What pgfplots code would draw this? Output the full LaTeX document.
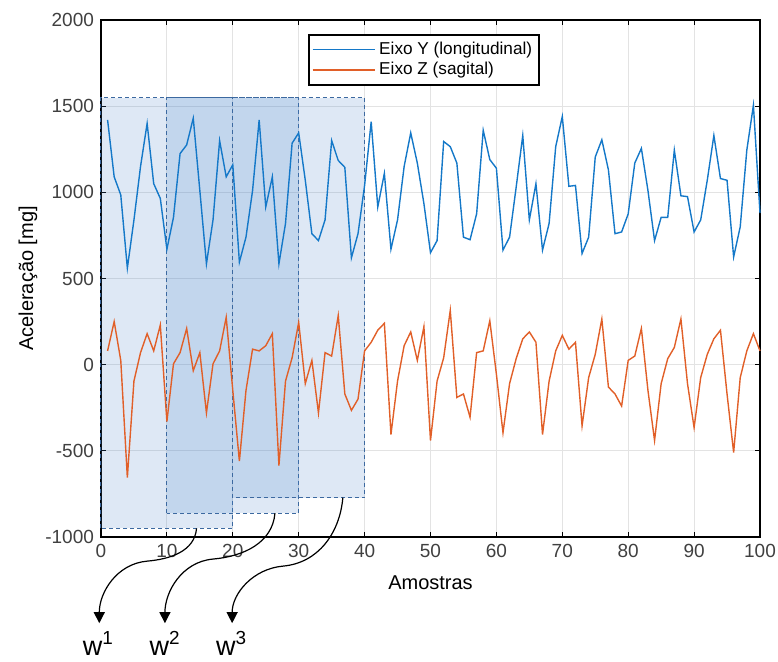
\documentclass[border=0pt]{standalone}
\usepackage{fontspec}
\setmainfont{Liberation Sans}
\usepackage{pgfplots}
\pgfplotsset{compat=1.18}
\usetikzlibrary{arrows.meta}
\definecolor{mblue}{RGB}{20,120,200}
\definecolor{morange}{RGB}{225,95,40}
\definecolor{winfill}{RGB}{70,130,200}
\definecolor{winedge}{RGB}{60,105,160}
\definecolor{ticktext}{RGB}{64,64,64}

\begin{document}
\begin{tikzpicture}
\path[use as bounding box] (-50.5pt,-62pt) rectangle (338.5pt,268.5pt);
\begin{axis}[
  at={(0,0)}, anchor=south west,
  scale only axis,
  width=329.5pt, height=258.5pt,
  xmin=0, xmax=100, ymin=-1000, ymax=2000,
  xtick={0,10,...,100}, ytick={-1000,-500,...,2000},
  grid=major,
  grid style={line width=0.4pt, draw=gray!22},
  axis line style={line width=0.9pt, black},
  tick style={black, line width=0.5pt},
  major tick length=2.5pt,
  tick align=inside,
  tick label style={font=\fontsize{9.5}{11}\selectfont, text=ticktext},
  /pgf/number format/assume math mode=true,
  /pgf/number format/set thousands separator={},
  xlabel={Amostras},
  ylabel={Aceleração [mg]},
  label style={font=\fontsize{11}{13}\selectfont, text=ticktext},
  every axis x label/.style={at={(axis description cs:0.5,-0.089)}, anchor=center},
  every axis y label/.style={at={(axis description cs:-0.1108,0.5)}, anchor=center, rotate=90},
  legend style={at={(axis description cs:0.314,0.973)}, anchor=north west,
    draw=black, line width=0.9pt, font=\fontsize{8.6}{10}\selectfont,
    inner sep=1.5pt, row sep=-1.5pt, cells={anchor=west}},
  legend image code/.code={\draw[#1, line width=0.7pt] (0pt,0pt) -- (31pt,0pt);},
  clip=false,
]
% janelas
\filldraw[fill=winfill, fill opacity=0.18, draw=winedge, line width=0.5pt, dash pattern=on 2pt off 1.5pt]
  (axis cs:0,-950) rectangle (axis cs:20,1550);
\filldraw[fill=winfill, fill opacity=0.18, draw=winedge, line width=0.5pt, dash pattern=on 2pt off 1.5pt]
  (axis cs:10,-862) rectangle (axis cs:30,1550);
\filldraw[fill=winfill, fill opacity=0.18, draw=winedge, line width=0.5pt, dash pattern=on 2pt off 1.5pt]
  (axis cs:20,-772) rectangle (axis cs:40,1550);

\addplot[color=mblue, line width=0.7pt] coordinates {
  (1,1420) (2,1090) (3,985) (4,560) (5,840) (6,1150) (7,1400) (8,1050) (9,965) (10,670)
  (11,855) (12,1225) (13,1275) (14,1430) (15,1010) (16,585) (17,840) (18,1300) (19,1090) (20,1160)
  (21,595) (22,740) (23,1010) (24,1420) (25,915) (26,1090) (27,585) (28,820) (29,1285) (30,1345)
  (31,1070) (32,760) (33,720) (34,840) (35,1300) (36,1185) (37,1145) (38,620) (39,760) (40,1040)
  (41,1410) (42,915) (43,1110) (44,670) (45,840) (46,1150) (47,1345) (48,1170) (49,935) (50,650)
  (51,720) (52,1295) (53,1265) (54,1170) (55,740) (56,725) (57,875) (58,1360) (59,1190) (60,1140)
  (61,665) (62,740) (63,1030) (64,1330) (65,840) (66,1050) (67,665) (68,820) (69,1265) (70,1440)
  (71,1035) (72,1040) (73,645) (74,740) (75,1205) (76,1305) (77,1130) (78,760) (79,770) (80,875)
  (81,1170) (82,1255) (83,1010) (84,720) (85,855) (86,855) (87,1245) (88,980) (89,975) (90,770)
  (91,840) (92,1070) (93,1330) (94,1080) (95,1070) (96,625) (97,800) (98,1245) (99,1505) (100,880)
};
\addlegendentry{Eixo Y (longitudinal)}
\addplot[color=morange, line width=0.7pt] coordinates {
  (1,80) (2,250) (3,25) (4,-655) (5,-95) (6,70) (7,180) (8,80) (9,230) (10,-330)
  (11,5) (12,70) (13,210) (14,-35) (15,70) (16,-280) (17,5) (18,80) (19,275) (20,-150)
  (21,-560) (22,-150) (23,90) (24,80) (25,110) (26,180) (27,-585) (28,-95) (29,40) (30,245)
  (31,-110) (32,25) (33,-280) (34,70) (35,50) (36,285) (37,-170) (38,-265) (39,-200) (40,80)
  (41,130) (42,200) (43,240) (44,-405) (45,-95) (46,110) (47,190) (48,25) (49,220) (50,-440)
  (51,-95) (52,40) (53,315) (54,-190) (55,-170) (56,-305) (57,70) (58,80) (59,255) (60,-55)
  (61,-395) (62,-110) (63,35) (64,150) (65,190) (66,130) (67,-405) (68,-95) (69,80) (70,170)
  (71,90) (72,130) (73,-355) (74,-75) (75,60) (76,265) (77,-130) (78,-170) (79,-240) (80,25)
  (81,50) (82,210) (83,-150) (84,-440) (85,-110) (86,35) (87,100) (88,265) (89,-110) (90,-365)
  (91,-75) (92,60) (93,150) (94,200) (95,-170) (96,-510) (97,-75) (98,80) (99,180) (100,80)
};
\addlegendentry{Eixo Z (sagital)}

% setas para as janelas
\draw[line width=0.6pt, -{Triangle[width=5.5pt,length=5.5pt]}]
  (axis cs:14.5,-950) to[out=-95,in=5] (axis cs:7,-1140) to[out=185,in=90] (axis cs:-0.26,-1500);
\draw[line width=0.6pt, -{Triangle[width=5.5pt,length=5.5pt]}]
  (axis cs:26.4,-862) to[out=-95,in=5] (axis cs:17,-1128) to[out=185,in=90] (axis cs:9.7,-1500);
\draw[line width=0.6pt, -{Triangle[width=5.5pt,length=5.5pt]}]
  (axis cs:36.7,-772) to[out=-95,in=5] (axis cs:27.6,-1169) to[out=185,in=90] (axis cs:19.9,-1500);
\node[anchor=base west, inner sep=0pt, font=\fontsize{13.5}{15}\selectfont] at (axis cs:-2.8,-1685) {w\textsuperscript{1}};
\node[anchor=base west, inner sep=0pt, font=\fontsize{13.5}{15}\selectfont] at (axis cs:7.3,-1685) {w\textsuperscript{2}};
\node[anchor=base west, inner sep=0pt, font=\fontsize{13.5}{15}\selectfont] at (axis cs:17.4,-1685) {w\textsuperscript{3}};
\end{axis}
\end{tikzpicture}
\end{document}
